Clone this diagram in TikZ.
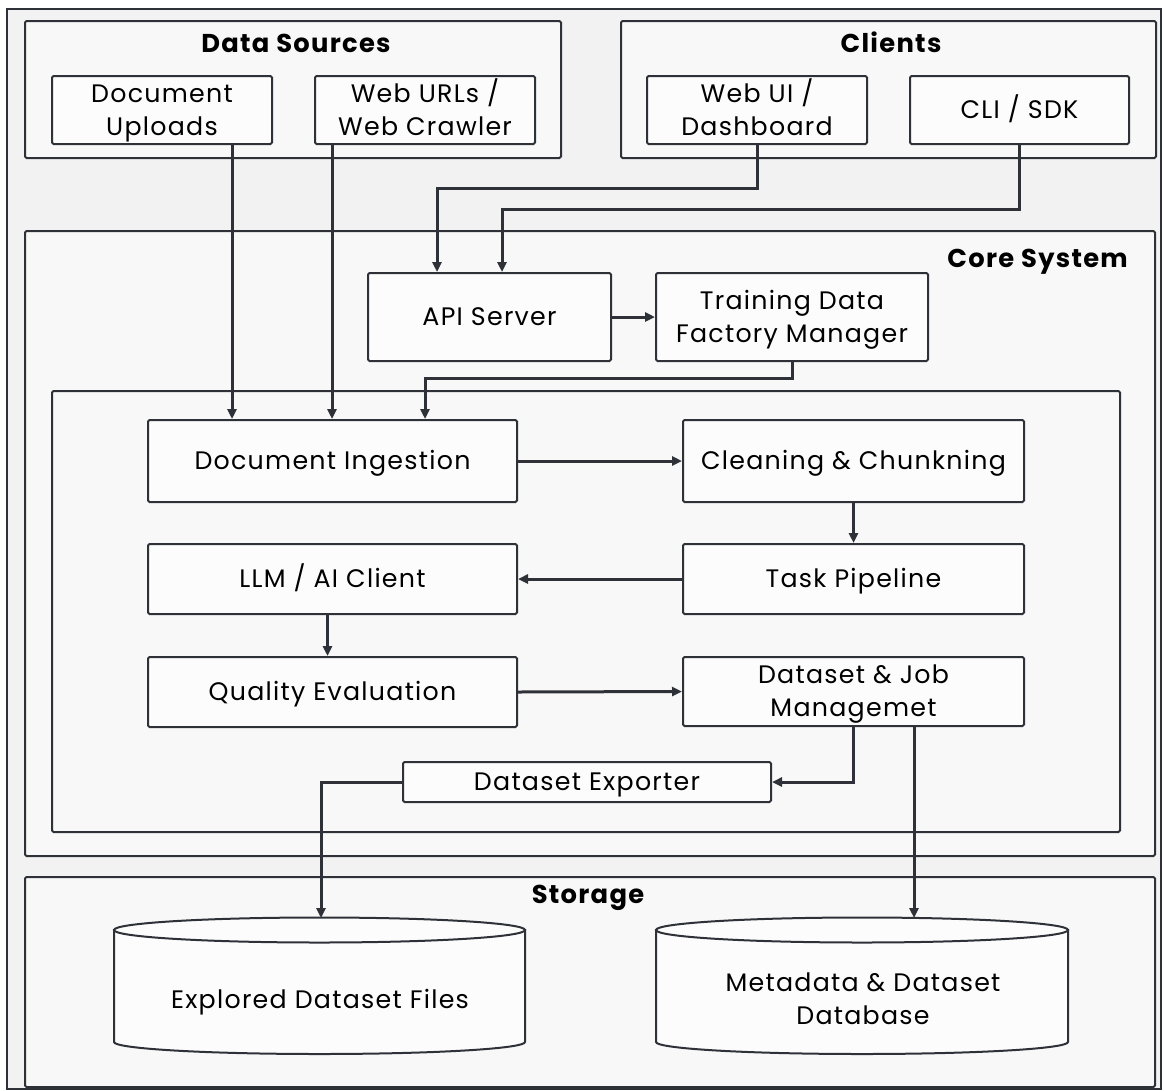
\documentclass[tikz,border=0pt]{standalone}
\usepackage{fontspec}
\setmainfont{Poppins}[LetterSpace=5]
\usetikzlibrary{arrows.meta,calc}
\definecolor{ink}{HTML}{2E3238}
\definecolor{pagebg}{HTML}{F2F2F2}
\definecolor{grpbg}{HTML}{F8F8F8}
\definecolor{boxbg}{HTML}{FCFCFC}
\newcommand{\capstrut}{\rule[-7.5pt]{0pt}{32.5pt}}
\begin{document}
\begin{tikzpicture}[x=1pt,y=-1pt,
  lbl/.style={font=\fontsize{25.3}{33}\selectfont, align=center, inner sep=0pt,
    execute at begin node=\capstrut, execute at end node=\capstrut},
  box/.style={lbl, draw=ink, line width=2pt, rounded corners=1.5pt, fill=boxbg},
  grp/.style={draw=ink, line width=2pt, rounded corners=1.5pt, fill=grpbg, inner sep=0pt},
  arr/.style={draw=ink, line width=3pt, -{Triangle[length=10pt,width=9pt]}},
  ttl/.style={font=\bfseries\fontsize{25.8}{33}\selectfont, inner sep=0pt,
    execute at begin node=\capstrut, execute at end node=\capstrut},
  cyl/.style={draw=ink, line width=2pt, fill=boxbg}]
\useasboundingbox (0,0) rectangle (1164,1090);
% outer frame
\node[draw=ink, line width=2pt, fill=pagebg, minimum width=1154pt, minimum height=1080pt, inner sep=0pt] (frame) at (584,549) {};
% groups
\node[grp, minimum width=536pt, minimum height=137pt] (ds) at (293,89.5) {};
\node[grp, minimum width=535pt, minimum height=137pt] (cl) at (888.5,89.5) {};
\node[grp, minimum width=1130pt, minimum height=625pt] (core) at (590,543.5) {};
\node[grp, minimum width=1068pt, minimum height=441pt] (inner) at (586,611.5) {};
\node[grp, minimum width=1130pt, minimum height=210pt] (st) at (590,982) {};
% titles
\node[ttl] (tds) at (296,44) {Data Sources};
\node[ttl] (tcl) at (891,44) {Clients};
\node[ttl, anchor=east] (tcore) at (1128,259) {Core System};
\node[ttl] (tst) at (588,895) {Storage};
% boxes
\node[box, minimum width=220pt, minimum height=68pt] (du) at (162,110) {\capstrut Document\\Uploads};
\node[box, minimum width=220pt, minimum height=68pt] (wu) at (425,110) {\capstrut Web URLs /\\Web Crawler};
\node[box, minimum width=220pt, minimum height=68pt] (wui) at (757,110) {\capstrut Web UI /\\Dashboard};
\node[box, minimum width=219pt, minimum height=68pt] (cli) at (1019.5,110) {CLI / SDK};
\node[box, minimum width=243pt, minimum height=88pt] (api) at (489.5,317) {API Server};
\node[box, minimum width=272pt, minimum height=88pt] (tdfm) at (792,317) {\capstrut Training Data\\Factory Manager};
\node[box, minimum width=369pt, minimum height=82pt] (di) at (332.5,461) {Document Ingestion};
\node[box, minimum width=341pt, minimum height=82pt] (cc) at (853.5,461) {Cleaning \& Chunkning};
\node[box, minimum width=369pt, minimum height=70pt] (llm) at (332.5,579) {LLM / AI Client};
\node[box, minimum width=341pt, minimum height=70pt] (tp) at (853.5,579) {Task Pipeline};
\node[box, minimum width=369pt, minimum height=70pt] (qe) at (332.5,692) {Quality Evaluation};
\node[box, minimum width=341pt, minimum height=69pt] (djm) at (853.5,691.5) {\capstrut Dataset \& Job\\Managemet};
\node[box, minimum width=368pt, minimum height=40pt] (exp) at (587,782) {Dataset Exporter};
% cylinders
\draw[cyl] (114,930) -- (114,1042) arc[start angle=180,end angle=360,x radius=205.5pt,y radius=12pt] -- (525,930) -- cycle;
\draw[cyl] (319.5,930) ellipse[x radius=205.5pt,y radius=12.5pt];
\node[lbl] (cyla) at (320,1000) {Explored Dataset Files};
\draw[cyl] (656,930) -- (656,1042) arc[start angle=180,end angle=360,x radius=206pt,y radius=12pt] -- (1068,930) -- cycle;
\draw[cyl] (862,930) ellipse[x radius=206pt,y radius=12.5pt];
\node[lbl] (cylb) at (863,999) {\capstrut Metadata \& Dataset\\Database};
% coordinates
\coordinate (a1) at (232,0);
\coordinate (a2) at (332,0);
\coordinate (j1) at (437,188);
\coordinate (j2) at (502,209);
\coordinate (j3) at (425,378);
\coordinate (a4) at (914,0);
\coordinate (cat) at (321,918);
\coordinate (cbt) at (914,918);
% connectors
\draw[arr] (du.south -| a1) -- (di.north -| a1);
\draw[arr] (wu.south -| a2) -- (di.north -| a2);
\draw[arr] (wui.south) -- (wui.south |- j1) -- (j1) -- (j1 |- api.north);
\draw[arr] (cli.south) -- (cli.south |- j2) -- (j2) -- (j2 |- api.north);
\draw[arr] (api.east) -- (tdfm.west);
\draw[arr] (tdfm.south) -- (tdfm.south |- j3) -- (j3) -- (j3 |- di.north);
\draw[arr] (di.east) -- (cc.west);
\draw[arr] (cc.south) -- (tp.north);
\draw[arr] (tp.west) -- (llm.east);
\draw[arr] ([xshift=-5pt]llm.south) -- ([xshift=-5pt]qe.north);
\draw[arr] (qe.east) -- (djm.west);
\draw[arr] (djm.south) |- (exp.east);
\draw[arr] (exp.west) -| (cat);
\draw[arr] (djm.south -| a4) -- (cbt);
\end{tikzpicture}
\end{document}
